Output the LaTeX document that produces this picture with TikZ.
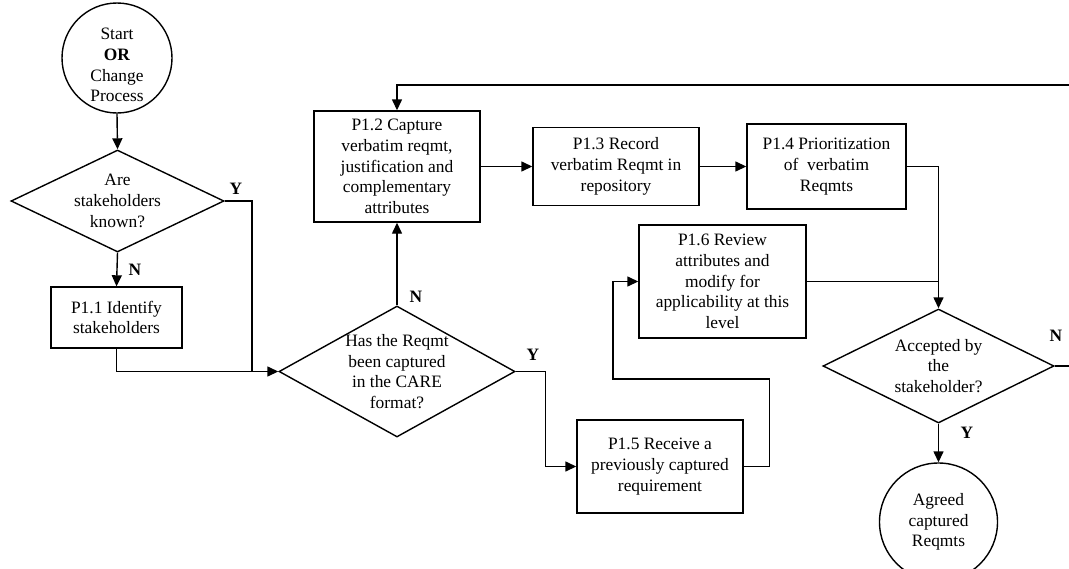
\documentclass[tikz,border=0pt]{standalone}
\usepackage{fontspec}
\setmainfont{Liberation Serif}
\usetikzlibrary{arrows.meta,shapes.geometric}
\begin{document}
\begin{tikzpicture}[x=1pt,y=-1pt,
  font=\fontsize{17.4}{20.7}\selectfont,
  line width=1.4pt,
  every node/.style={line width=1.4pt},
  arr/.style={-{Triangle[length=11pt,width=10pt]}},
  procbox/.style={draw,rectangle,align=center,inner sep=0pt},
  decision/.style={draw,diamond,inner sep=0pt},
  terminal/.style={draw,circle,inner sep=0pt},
  yn/.style={font=\fontsize{17.4}{20.7}\selectfont\bfseries,inner sep=0pt}]
\clip (0,0) rectangle (1069,568);
\fill[white] (0,0) rectangle (1069,568);

% terminals
\node[terminal,minimum size=110pt,
  label={[align=center,yshift=-7pt]center:Start\\\textbf{OR}\\Change\\Process}]
  (start) at (117,58) {};
\node[terminal,minimum size=118pt,
  label={[align=center]center:Agreed\\captured\\Reqmts}]
  (done) at (938.5,522) {};

% decisions
\node[decision,minimum width=213pt,minimum height=102pt,
  label={[align=center]center:Are\\stakeholders\\known?}]
  (d1) at (117.5,201) {};
\node[decision,minimum width=236pt,minimum height=131pt,
  label={[align=center]center:Has the Reqmt\\been captured\\in the CARE\\format?}]
  (d2) at (397,371.5) {};
\node[decision,minimum width=231pt,minimum height=114pt,
  label={[align=center]center:Accepted by\\the\\stakeholder?}]
  (d3) at (938.5,366) {};

% process steps
\node[procbox,minimum width=131pt,minimum height=61pt] (p11) at (116.5,317.5)
  {P1.1 Identify\\stakeholders};
\node[procbox,minimum width=166pt,minimum height=111pt] (p12) at (397,166.5)
  {P1.2 Capture\\verbatim reqmt,\\justification and\\complementary\\attributes};
\node[procbox,minimum width=166pt,minimum height=78pt] (p13) at (616,166.5)
  {P1.3 Record\\verbatim Reqmt in\\repository};
\node[procbox,minimum width=159pt,minimum height=85pt] (p14) at (826.5,166.5)
  {P1.4 Prioritization\\of\ \ verbatim\\Reqmts};
\node[procbox,minimum width=166pt,minimum height=93pt] (p15) at (660,466.5)
  {P1.5 Receive a\\previously captured\\requirement};
\node[procbox,minimum width=167pt,minimum height=113pt] (p16) at (722.5,281.5)
  {P1.6 Review\\attributes and\\modify for\\applicability at this\\level};

% branch labels
\node[yn] (y1) at (236,189) {Y};
\node[yn] (n1) at (135,270) {N};
\node[yn] (n2) at (416,297) {N};
\node[yn] (y2) at (533,355) {Y};
\node[yn] (n3) at (1056,336) {N};
\node[yn] (y3) at (967,433) {Y};

% helper points
\coordinate (j1) at (252,371.5);
\coordinate (c2) at (613,379);
\coordinate (loop) at (1090,85);

% connectors
\draw[arr] (start.south) -- (d1.north);
\draw (d1.east) -| (j1);
\draw[arr] (d1.south) -- (p11.north);
\draw[arr] (p11.south) |- (d2.west);
\draw[arr] (d2.north) -- (p12.south);
\draw[arr] (d2.east) -- ++(30,0) |- (p15.west);
\draw[arr] (p12.east) -- (p13.west);
\draw[arr] (p13.east) -- (p14.west);
\draw[arr] (p14.east) -| (d3.north);
\draw[arr] (p15.east) -- ++(26,0) |- (c2) |- (p16.west);
\draw (p16.east) -- (p16.east -| d3.north);
\draw[arr] (d3.south) -- (done.north);
\draw[arr] (d3.east) -| (loop) -| (p12.north);
\end{tikzpicture}
\end{document}
